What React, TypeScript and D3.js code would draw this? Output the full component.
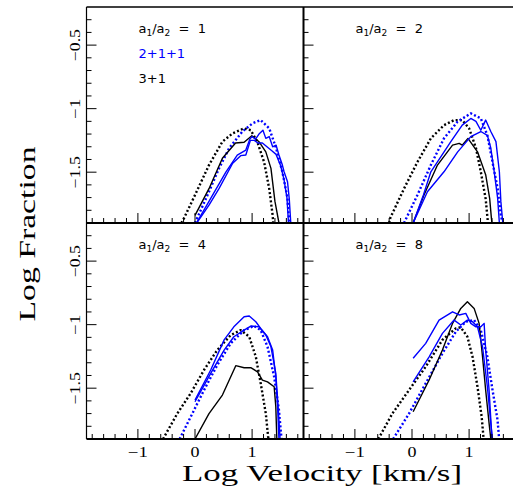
import React from "react";
import * as d3 from "d3";

// log velocity / log fraction pairs
const ratios = ["1", "2", "4", "8"];

const blackDot1 = [[-0.24,-1.9],[-0.19,-1.86],[0.0,-1.68],[0.245,-1.444],[0.48,-1.26],[0.656,-1.195],[0.86,-1.155],[0.977,-1.17],[1.09,-1.26],[1.21,-1.42],[1.30,-1.63],[1.36,-1.84],[1.37,-1.9]];
const blueDot1 = [[0.0,-1.9],[0.245,-1.654],[0.42,-1.47],[0.60,-1.31],[0.83,-1.18],[1.007,-1.116],[1.15,-1.09],[1.30,-1.155],[1.42,-1.31],[1.53,-1.497],[1.62,-1.706],[1.65,-1.9]];
const black1 = [[0.0,-1.84],[0.245,-1.63],[0.48,-1.39],[0.71,-1.27],[0.86,-1.265],[0.995,-1.213],[1.12,-1.26],[1.24,-1.34],[1.33,-1.47],[1.40,-1.73],[1.47,-1.9]];
const blueA1 = [[0.0,-1.92],[0.245,-1.73],[0.54,-1.5],[0.74,-1.365],[0.89,-1.326],[0.96,-1.24],[1.0,-1.22],[1.06,-1.24],[1.12,-1.2],[1.19,-1.17],[1.24,-1.234],[1.30,-1.22],[1.36,-1.3],[1.42,-1.287],[1.47,-1.365],[1.53,-1.444],[1.56,-1.497],[1.62,-1.575],[1.65,-1.706],[1.68,-1.92]];
const blueB1 = [[0.0,-1.92],[0.245,-1.76],[0.42,-1.63],[0.66,-1.43],[0.8,-1.37],[0.89,-1.365],[0.97,-1.25],[1.04,-1.25],[1.1,-1.27],[1.18,-1.27],[1.26,-1.3],[1.34,-1.33],[1.42,-1.36],[1.5,-1.45],[1.56,-1.56],[1.61,-1.7],[1.64,-1.92]];

const blackDot2 = [[-0.4,-1.9],[-0.38,-1.86],[-0.14,-1.63],[0.095,-1.42],[0.33,-1.234],[0.56,-1.13],[0.74,-1.09],[0.88,-1.09],[1.0,-1.155],[1.12,-1.31],[1.205,-1.497],[1.29,-1.71],[1.33,-1.9]];
const blueDot2 = [[-0.14,-1.9],[0.095,-1.68],[0.33,-1.444],[0.56,-1.234],[0.797,-1.103],[1.03,-1.037],[1.205,-1.077],[1.32,-1.21],[1.41,-1.42],[1.5,-1.63],[1.556,-1.84],[1.586,-1.9]];
const black2 = [[0.02,-1.9],[0.21,-1.68],[0.446,-1.444],[0.71,-1.287],[0.826,-1.273],[0.88,-1.287],[0.98,-1.234],[1.147,-1.34],[1.29,-1.52],[1.36,-1.706],[1.39,-1.86],[1.4,-1.9]];
const blueA2 = [[0.02,-1.9],[0.2,-1.68],[0.33,-1.497],[0.68,-1.26],[0.88,-1.13],[1.03,-1.077],[1.12,-1.1],[1.205,-1.17],[1.29,-1.09],[1.38,-1.18],[1.47,-1.26],[1.53,-1.497],[1.556,-1.73],[1.59,-1.9]];
const blueB2 = [[0.02,-1.9],[0.27,-1.654],[0.56,-1.497],[0.8,-1.34],[1.03,-1.22],[1.205,-1.18],[1.32,-1.21],[1.38,-1.31],[1.44,-1.497],[1.5,-1.706],[1.53,-1.9]];

const blackDot3 = [[-0.56,-1.9],[-0.31,-1.7],[-0.075,-1.54],[0.158,-1.357],[0.39,-1.2],[0.626,-1.082],[0.8,-1.043],[0.95,-1.095],[1.065,-1.253],[1.15,-1.46],[1.24,-1.7],[1.28,-1.88],[1.29,-1.9]];
const blueDot3 = [[-0.27,-1.9],[-0.075,-1.725],[0.158,-1.515],[0.39,-1.318],[0.626,-1.147],[0.86,-1.043],[1.035,-1.011],[1.15,-1.043],[1.27,-1.174],[1.386,-1.41],[1.47,-1.672],[1.515,-1.9]];
const black3 = [[0.0,-1.9],[0.245,-1.7],[0.48,-1.554],[0.714,-1.323],[0.86,-1.339],[0.977,-1.339],[1.095,-1.371],[1.18,-1.436],[1.27,-1.45],[1.386,-1.489],[1.415,-1.646],[1.433,-1.9]];
const blueA3 = [[0.0,-1.594],[0.275,-1.357],[0.51,-1.12],[0.68,-1.017],[0.86,-0.938],[0.95,-0.932],[1.065,-0.977],[1.15,-1.03],[1.27,-1.095],[1.36,-1.2],[1.415,-1.41],[1.446,-1.646],[1.47,-1.9]];
const blueB3 = [[0.0,-1.607],[0.275,-1.384],[0.51,-1.2],[0.68,-1.095],[0.86,-1.043],[0.977,-1.011],[1.12,-1.017],[1.24,-1.082],[1.33,-1.174],[1.415,-1.384],[1.456,-1.646],[1.49,-1.9]];

const blackDot4 = [[-0.59,-1.9],[-0.344,-1.7],[-0.052,-1.515],[0.24,-1.331],[0.533,-1.12],[0.767,-1.029],[0.854,-1.021],[0.97,-1.095],[1.06,-1.253],[1.147,-1.489],[1.22,-1.725],[1.25,-1.88],[1.255,-1.9]];
const blueDot4 = [[-0.33,-1.9],[-0.052,-1.7],[0.24,-1.462],[0.533,-1.226],[0.767,-1.056],[0.942,-0.977],[1.088,-0.964],[1.205,-1.043],[1.32,-1.253],[1.41,-1.515],[1.498,-1.75],[1.526,-1.9]];
const black4 = [[0.02,-1.686],[0.3,-1.436],[0.533,-1.2],[0.71,-0.99],[0.854,-0.872],[0.97,-0.82],[1.088,-0.872],[1.175,-0.99],[1.235,-1.253],[1.29,-1.515],[1.35,-1.777],[1.38,-1.9]];
const blueA4 = [[0.02,-1.265],[0.24,-1.147],[0.474,-0.964],[0.71,-0.899],[0.826,-0.924],[0.942,-0.911],[1.03,-0.99],[1.12,-1.017],[1.205,-1.017],[1.263,-0.99],[1.29,-1.2],[1.35,-1.515],[1.4,-1.9]];
const blueB4 = [[0.02,-1.45],[0.3,-1.253],[0.533,-1.069],[0.737,-0.964],[0.854,-1.003],[0.97,-0.964],[1.06,-0.977],[1.147,-1.017],[1.235,-1.174],[1.32,-1.489],[1.38,-1.777],[1.41,-1.9]];

const panelData = [
  [blackDot1, blueDot1, black1, blueA1, blueB1],
  [blackDot2, blueDot2, black2, blueA2, blueB2],
  [blackDot3, blueDot3, black3, blueA3, blueB3],
  [blackDot4, blueDot4, black4, blueA4, blueB4],
];

const xTickLabels = ["−1", "0", "1"];
const yTickLabels = ["−1.5", "−1", "−0.5"];

const SERIF = "Liberation Serif";
const W = 217;
const H = 216;
const origins = [
  [86.5, 7],
  [303.5, 7],
  [86.5, 223],
  [303.5, 223],
];
const styles = [
  { stroke: "#000", width: 2.4, dash: "2 2.2" },
  { stroke: "#0000ff", width: 2.4, dash: "2 2.2" },
  { stroke: "#000", width: 1.4, dash: null },
  { stroke: "#0000ff", width: 1.4, dash: null },
  { stroke: "#0000ff", width: 1.4, dash: null },
];

const xMinor = d3.range(-18, 19, 2).map((v) => v / 10);
const yMinor = d3.range(-18, -2).map((v) => v / 10);
const isMajorX = (v) => Math.abs(v - Math.round(v)) < 1e-6;
const isMajorY = (v) => Math.abs(v * 2 - Math.round(v * 2)) < 1e-6;
// rough glyph widths so the labels span what the figure shows
const labelLen = (s) => (s.length === 1 ? 9 : s.length === 2 ? 20 : 32);

const Panel = ({ idx }) => {
  const [x0, y0] = origins[idx];
  const x = d3.scaleLinear().domain([-1.9, 1.9]).range([x0, x0 + W]);
  const y = d3.scaleLinear().domain([-1.9, -0.2]).range([y0 + H, y0]);
  const line = d3
    .line()
    .x((d) => x(d[0]))
    .y((d) => y(d[1]));
  const bottom = idx >= 2;
  const left = idx % 2 === 0;
  const lx = x0 + 52;
  const ly = y0 + 26;
  return (
    <g>
      <clipPath id={"clip" + idx}>
        <rect x={x0} y={y0} width={W} height={H} />
      </clipPath>
      <g clipPath={`url(#clip${idx})`}>
        {panelData[idx].map((s, i) => (
          <path
            key={i}
            d={line(s)}
            fill="none"
            stroke={styles[i].stroke}
            strokeWidth={styles[i].width}
            strokeDasharray={styles[i].dash || undefined}
            strokeLinejoin="round"
          />
        ))}
      </g>
      {xMinor.map((v) => (
        <line
          key={"x" + v}
          x1={x(v)}
          x2={x(v)}
          y1={y0 + H}
          y2={y0 + H - (isMajorX(v) ? 10 : 5)}
          stroke="#000"
          strokeWidth={1}
        />
      ))}
      {yMinor.map((v) => (
        <line
          key={"y" + v}
          x1={x0}
          x2={x0 + (isMajorY(v) ? 10 : 5)}
          y1={y(v)}
          y2={y(v)}
          stroke="#000"
          strokeWidth={1}
        />
      ))}
      {bottom &&
        [-1, 0, 1].map((v, i) => (
          <text
            key={"xl" + v}
            x={x(v)}
            y={457}
            textAnchor="middle"
            fontFamily={SERIF}
            fontSize={14}
            textLength={labelLen(xTickLabels[i])}
            lengthAdjust="spacingAndGlyphs"
          >
            {xTickLabels[i]}
          </text>
        ))}
      {left &&
        [-1.5, -1, -0.5].map((v, i) => (
          <text
            key={"yl" + v}
            transform={`translate(80,${y(v)}) rotate(-90)`}
            textAnchor="middle"
            fontFamily={SERIF}
            fontSize={14}
            textLength={labelLen(yTickLabels[i])}
            lengthAdjust="spacingAndGlyphs"
          >
            {yTickLabels[i]}
          </text>
        ))}
      <text
        x={lx}
        y={ly}
        fontFamily="DejaVu Sans"
        fontSize={13}
        style={{ whiteSpace: "pre" }}
      >
        a<tspan fontSize={9} dy={3}>1</tspan>
        <tspan dy={-3}>/a</tspan>
        <tspan fontSize={9} dy={3}>2</tspan>
        <tspan dy={-3}>{"  =  " + ratios[idx]}</tspan>
      </text>
      {idx === 0 && (
        <>
          <text x={lx} y={ly + 25} fontFamily="DejaVu Sans" fontSize={13} fill="#0000ff">
            2+1+1
          </text>
          <text x={lx} y={ly + 50} fontFamily="DejaVu Sans" fontSize={13} fill="#000">
            3+1
          </text>
        </>
      )}
    </g>
  );
};

export default function App() {
  return (
    <svg
      width={513}
      height={487}
      style={{ position: "absolute", left: 0, top: 0, background: "#fff" }}
    >
      {[0, 1, 2, 3].map((i) => (
        <Panel key={i} idx={i} />
      ))}
      {/* frame */}
      <line x1={86.5} x2={86.5 + 2 * W} y1={7} y2={7} stroke="#000" strokeWidth={1.4} />
      <line x1={86.5} x2={86.5} y1={7} y2={7 + 2 * H} stroke="#000" strokeWidth={1.2} />
      <line x1={303.5} x2={303.5} y1={7} y2={7 + 2 * H} stroke="#000" strokeWidth={2} />
      <line x1={86.5} x2={86.5 + 2 * W} y1={223} y2={223} stroke="#000" strokeWidth={2} />
      <line x1={86.5} x2={86.5 + 2 * W} y1={439} y2={439} stroke="#000" strokeWidth={2} />
      <text
        x={322}
        y={481}
        textAnchor="middle"
        fontFamily={SERIF}
        fontSize={24}
        textLength={280}
        lengthAdjust="spacingAndGlyphs"
      >
        Log Velocity [km/s]
      </text>
      <text
        transform="translate(35,234) rotate(-90)"
        textAnchor="middle"
        fontFamily={SERIF}
        fontSize={24}
        textLength={175}
        lengthAdjust="spacingAndGlyphs"
      >
        Log Fraction
      </text>
    </svg>
  );
}
